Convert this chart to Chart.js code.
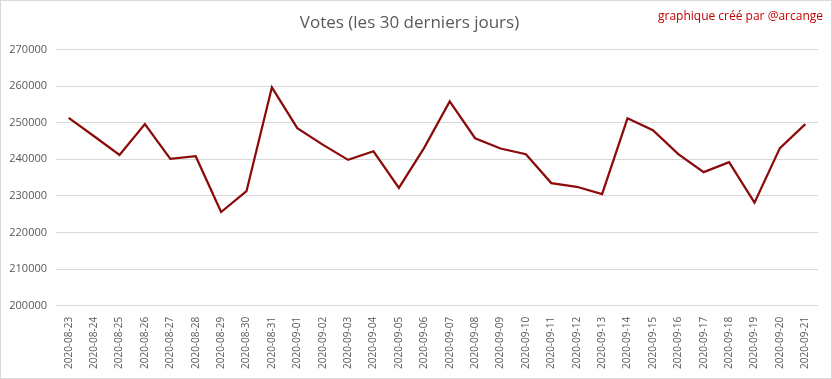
<!DOCTYPE html>
<html>
<head>
<meta charset="utf-8">
<script src="https://cdn.jsdelivr.net/npm/chart.js@4"></script>
<style>
  body { margin: 0; background: #fff; }
  #wrap { position: relative; width: 830px; height: 377px; border: 1px solid #d9d9d9; }
  #credit { position: absolute; right: 8px; top: 6px; font: 12px "Open Sans", sans-serif; color: #c00000; }
</style>
</head>
<body>
<div id="wrap">
  <canvas id="votesChart" width="830" height="377"></canvas>
  <div id="credit">graphique créé par @arcange</div>
</div>
<script>
const days = ['2020-08-23', '2020-08-24', '2020-08-25', '2020-08-26', '2020-08-27', '2020-08-28', '2020-08-29', '2020-08-30', '2020-08-31', '2020-09-01',
    '2020-09-02', '2020-09-03', '2020-09-04', '2020-09-05', '2020-09-06', '2020-09-07', '2020-09-08', '2020-09-09', '2020-09-10', '2020-09-11',
    '2020-09-12', '2020-09-13', '2020-09-14', '2020-09-15', '2020-09-16', '2020-09-17', '2020-09-18', '2020-09-19', '2020-09-20', '2020-09-21'];
const votes = [251300, 246300, 241200, 249600, 240100, 240850, 225600, 231300, 259650, 248500,
    244000, 239850, 242200, 232200, 243200, 255800, 245750, 242950, 241400, 233500,
    232500, 230500, 251200, 247950, 241400, 236500, 239200, 228150, 243050, 249600];
const yMin = 200000;
const yMax = 270000;
const yStep = 10000;

const ctx = document.getElementById('votesChart').getContext('2d');
const votesChart = new Chart(ctx, {
    type: 'line',
    data: {
        labels: days,
        datasets: [{
            label: 'Votes',
            data: votes,
            borderColor: '#8b0a0a',
            borderWidth: 2.25,
            pointRadius: 0,
            tension: 0,
            fill: false
        }]
    },
    options: {
        responsive: false,
        animation: false,
        layout: {
            padding: { left: 0, right: 13, top: 0, bottom: 6 }
        },
        plugins: {
            legend: { display: false },
            tooltip: { enabled: false },
            title: {
                display: true,
                text: 'Votes (les 30 derniers jours)',
                color: '#595959',
                font: { family: 'Open Sans', size: 17, weight: 'normal' },
                padding: { top: 12, bottom: 16 }
            }
        },
        scales: {
            x: {
                offset: true,
                grid: { display: false },
                border: { display: false },
                ticks: {
                    autoSkip: false,
                    maxRotation: 90,
                    minRotation: 90,
                    color: '#595959',
                    font: { family: 'Open Sans', size: 10 }
                }
            },
            y: {
                min: yMin,
                max: yMax,
                afterFit: (axis) => { axis.width = 55; },
                border: { display: false },
                grid: { color: '#d9d9d9', drawTicks: false },
                ticks: {
                    stepSize: yStep,
                    padding: 9,
                    color: '#595959',
                    font: { family: 'Open Sans', size: 11 },
                    callback: (v) => String(v)
                }
            }
        }
    }
});
</script>
</body>
</html>
